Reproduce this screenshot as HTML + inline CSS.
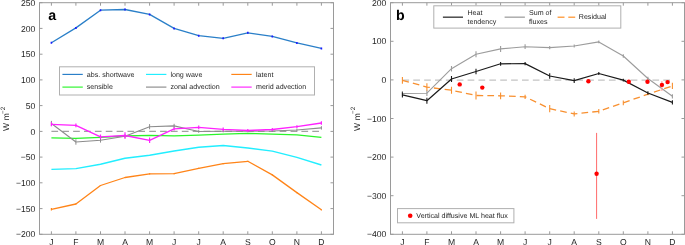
<!DOCTYPE html>
<html><head><meta charset="utf-8"><style>
html,body{margin:0;padding:0;background:#fff;}
body{width:685px;height:245px;overflow:hidden;}
svg{display:block;filter:blur(0.35px);}
text{font-family:"Liberation Sans", sans-serif;fill:#262626;text-rendering:geometricPrecision;}
.tl{font-size:8.6px;}
.lg{font-size:7.1px;}
.pl{font-size:14.2px;font-weight:bold;fill:#000;}
.yl{font-size:8.5px;}
</style></head><body>
<svg width="685" height="245" viewBox="0 0 685 245">
<rect x="39.5" y="2.7" width="294.0" height="231.6" fill="none" stroke="#9a9a9a" stroke-width="1"/><path d="M51.4 234.3V231.3M51.4 2.7V5.7M75.9 234.3V231.3M75.9 2.7V5.7M100.5 234.3V231.3M100.5 2.7V5.7M125.0 234.3V231.3M125.0 2.7V5.7M149.6 234.3V231.3M149.6 2.7V5.7M174.1 234.3V231.3M174.1 2.7V5.7M198.7 234.3V231.3M198.7 2.7V5.7M223.2 234.3V231.3M223.2 2.7V5.7M247.8 234.3V231.3M247.8 2.7V5.7M272.3 234.3V231.3M272.3 2.7V5.7M296.9 234.3V231.3M296.9 2.7V5.7M321.4 234.3V231.3M321.4 2.7V5.7M39.5 2.7H42.5M333.5 2.7H330.5M39.5 28.4H42.5M333.5 28.4H330.5M39.5 54.2H42.5M333.5 54.2H330.5M39.5 79.9H42.5M333.5 79.9H330.5M39.5 105.6H42.5M333.5 105.6H330.5M39.5 131.4H42.5M333.5 131.4H330.5M39.5 157.1H42.5M333.5 157.1H330.5M39.5 182.8H42.5M333.5 182.8H330.5M39.5 208.6H42.5M333.5 208.6H330.5M39.5 234.3H42.5M333.5 234.3H330.5" stroke="#9a9a9a" stroke-width="1" fill="none"/><text x="35.3" y="5.8" text-anchor="end" class="tl">250</text><text x="35.3" y="31.5" text-anchor="end" class="tl">200</text><text x="35.3" y="57.3" text-anchor="end" class="tl">150</text><text x="35.3" y="83.0" text-anchor="end" class="tl">100</text><text x="35.3" y="108.7" text-anchor="end" class="tl">50</text><text x="35.3" y="134.5" text-anchor="end" class="tl">0</text><text x="35.3" y="160.2" text-anchor="end" class="tl">−50</text><text x="35.3" y="185.9" text-anchor="end" class="tl">−100</text><text x="35.3" y="211.7" text-anchor="end" class="tl">−150</text><text x="35.3" y="237.4" text-anchor="end" class="tl">−200</text><text x="51.4" y="244.8" text-anchor="middle" class="tl">J</text><text x="75.9" y="244.8" text-anchor="middle" class="tl">F</text><text x="100.5" y="244.8" text-anchor="middle" class="tl">M</text><text x="125.0" y="244.8" text-anchor="middle" class="tl">A</text><text x="149.6" y="244.8" text-anchor="middle" class="tl">M</text><text x="174.1" y="244.8" text-anchor="middle" class="tl">J</text><text x="198.7" y="244.8" text-anchor="middle" class="tl">J</text><text x="223.2" y="244.8" text-anchor="middle" class="tl">A</text><text x="247.8" y="244.8" text-anchor="middle" class="tl">S</text><text x="272.3" y="244.8" text-anchor="middle" class="tl">O</text><text x="296.9" y="244.8" text-anchor="middle" class="tl">N</text><text x="321.4" y="244.8" text-anchor="middle" class="tl">D</text>
<text x="48.3" y="20" class="pl">a</text>
<text transform="translate(9,131) rotate(-90)" class="yl">W<tspan x="10.7">m</tspan><tspan x="17.1" dy="-4.2" font-size="6.3">−2</tspan></text>
<line x1="51.4" y1="131.3" x2="321.4" y2="131.3" stroke="#7e7e7e" stroke-width="0.9" stroke-dasharray="6.7 4.17"/>
<polyline points="51.4,137.9 75.9,138.3 100.5,137.4 125.0,136.0 149.6,135.3 174.1,135.9 198.7,135.2 223.2,134.1 247.8,133.3 272.3,134.1 296.9,134.9 321.4,137.4" fill="none" stroke="#2af52a" stroke-width="1.35" stroke-linejoin="round" />
<polyline points="51.4,123.5 75.9,142.0 100.5,140.3 125.0,136.3 149.6,126.7 174.1,125.9 198.7,131.5 223.2,131.3 247.8,131.2 272.3,131.0 296.9,130.0 321.4,127.9" fill="none" stroke="#8c8c8c" stroke-width="1.1" stroke-linejoin="round" />
<path d="M51.4 120.90V126.10M75.9 139.30V144.70M100.5 138.00V142.60M125.0 134.30V138.30M149.6 124.10V129.30M174.1 123.80V128.00M198.7 130.20V132.80M223.2 130.30V132.30M247.8 130.20V132.20M272.3 130.00V132.00M296.9 128.50V131.50M321.4 126.20V129.60" stroke="#8c8c8c" stroke-width="1.0" fill="none"/>
<polyline points="51.4,124.3 75.9,125.4 100.5,136.8 125.0,135.5 149.6,140.3 174.1,128.9 198.7,127.4 223.2,129.4 247.8,130.5 272.3,129.5 296.9,126.6 321.4,123.0" fill="none" stroke="#ff22ff" stroke-width="1.3" stroke-linejoin="round" />
<path d="M51.4 122.30V126.30M75.9 123.50V127.30M100.5 134.50V139.10M125.0 132.20V138.80M149.6 137.60V143.00M174.1 127.30V130.50M198.7 125.60V129.20M223.2 127.60V131.20M247.8 129.10V131.90M272.3 128.10V130.90M296.9 125.20V128.00M321.4 121.20V124.80" stroke="#ff22ff" stroke-width="1.2" fill="none"/>
<polyline points="51.4,169.4 75.9,168.6 100.5,164.3 125.0,158.2 149.6,155.2 174.1,151.0 198.7,147.2 223.2,145.5 247.8,148.0 272.3,151.1 296.9,157.4 321.4,165.0" fill="none" stroke="#22eeff" stroke-width="1.4" stroke-linejoin="round" />
<polyline points="51.4,209.3 75.9,204.0 100.5,185.5 125.0,177.5 149.6,173.9 174.1,173.7 198.7,168.3 223.2,163.6 247.8,161.3 272.3,174.9 296.9,192.6 321.4,209.8" fill="none" stroke="#ff8418" stroke-width="1.3" stroke-linejoin="round" />
<path d="M51.4 208.00V210.60M75.9 203.40V204.60M100.5 184.90V186.10M125.0 176.90V178.10M149.6 173.30V174.50M174.1 173.10V174.30M198.7 167.70V168.90M223.2 163.00V164.20M247.8 160.70V161.90M272.3 174.30V175.50M296.9 192.00V193.20M321.4 209.20V210.40" stroke="#ff8418" stroke-width="1.2" fill="none"/>
<polyline points="51.4,42.8 75.9,27.9 100.5,10.2 125.0,9.5 149.6,14.4 174.1,28.4 198.7,35.7 223.2,38.3 247.8,32.8 272.3,36.4 296.9,42.9 321.4,48.4" fill="none" stroke="#2a7fc8" stroke-width="1.3" stroke-linejoin="round" />
<path d="M51.4 41.80V43.80M75.9 26.90V28.90M100.5 9.20V11.20M125.0 8.50V10.50M149.6 13.40V15.40M174.1 27.40V29.40M198.7 34.70V36.70M223.2 37.30V39.30M247.8 31.80V33.80M272.3 35.40V37.40M296.9 41.90V43.90M321.4 47.40V49.40" stroke="#1a1aff" stroke-width="1.6" fill="none"/>
<rect x="59.5" y="66.8" width="255" height="28.2" fill="#fff" stroke="#b0b0b0" stroke-width="1"/>
<line x1="62.4" y1="74.4" x2="82.8" y2="74.4" stroke="#2a7fc8" stroke-width="1.15"/>
<text x="86.8" y="76.8" class="lg">abs. shortwave</text>
<line x1="146.0" y1="74.4" x2="166.4" y2="74.4" stroke="#22eeff" stroke-width="1.15"/>
<text x="170.4" y="76.8" class="lg">long wave</text>
<line x1="231.3" y1="74.4" x2="251.7" y2="74.4" stroke="#ff8418" stroke-width="1.15"/>
<text x="256.0" y="76.8" class="lg">latent</text>
<line x1="62.4" y1="87.1" x2="82.8" y2="87.1" stroke="#2af52a" stroke-width="1.15"/>
<text x="86.8" y="89.4" class="lg">sensible</text>
<line x1="146.0" y1="87.1" x2="166.4" y2="87.1" stroke="#8c8c8c" stroke-width="1.15"/>
<text x="170.4" y="89.4" class="lg">zonal advection</text>
<line x1="231.3" y1="87.1" x2="251.7" y2="87.1" stroke="#ff22ff" stroke-width="1.15"/>
<text x="256.0" y="89.4" class="lg">merid advection</text>
<rect x="390.5" y="2.7" width="294.0" height="231.6" fill="none" stroke="#9a9a9a" stroke-width="1"/><path d="M402.4 234.3V231.3M402.4 2.7V5.7M426.9 234.3V231.3M426.9 2.7V5.7M451.5 234.3V231.3M451.5 2.7V5.7M476.0 234.3V231.3M476.0 2.7V5.7M500.6 234.3V231.3M500.6 2.7V5.7M525.1 234.3V231.3M525.1 2.7V5.7M549.7 234.3V231.3M549.7 2.7V5.7M574.2 234.3V231.3M574.2 2.7V5.7M598.8 234.3V231.3M598.8 2.7V5.7M623.3 234.3V231.3M623.3 2.7V5.7M647.9 234.3V231.3M647.9 2.7V5.7M672.4 234.3V231.3M672.4 2.7V5.7M390.5 2.7H393.5M684.5 2.7H681.5M390.5 41.3H393.5M684.5 41.3H681.5M390.5 79.9H393.5M684.5 79.9H681.5M390.5 118.5H393.5M684.5 118.5H681.5M390.5 157.1H393.5M684.5 157.1H681.5M390.5 195.7H393.5M684.5 195.7H681.5M390.5 234.3H393.5M684.5 234.3H681.5" stroke="#9a9a9a" stroke-width="1" fill="none"/><text x="386.3" y="5.8" text-anchor="end" class="tl">200</text><text x="386.3" y="44.4" text-anchor="end" class="tl">100</text><text x="386.3" y="83.0" text-anchor="end" class="tl">0</text><text x="386.3" y="121.6" text-anchor="end" class="tl">−100</text><text x="386.3" y="160.2" text-anchor="end" class="tl">−200</text><text x="386.3" y="198.8" text-anchor="end" class="tl">−300</text><text x="386.3" y="237.4" text-anchor="end" class="tl">−400</text><text x="402.4" y="244.8" text-anchor="middle" class="tl">J</text><text x="426.9" y="244.8" text-anchor="middle" class="tl">F</text><text x="451.5" y="244.8" text-anchor="middle" class="tl">M</text><text x="476.0" y="244.8" text-anchor="middle" class="tl">A</text><text x="500.6" y="244.8" text-anchor="middle" class="tl">M</text><text x="525.1" y="244.8" text-anchor="middle" class="tl">J</text><text x="549.7" y="244.8" text-anchor="middle" class="tl">J</text><text x="574.2" y="244.8" text-anchor="middle" class="tl">A</text><text x="598.8" y="244.8" text-anchor="middle" class="tl">S</text><text x="623.3" y="244.8" text-anchor="middle" class="tl">O</text><text x="647.9" y="244.8" text-anchor="middle" class="tl">N</text><text x="672.4" y="244.8" text-anchor="middle" class="tl">D</text>
<text x="396" y="19.6" class="pl">b</text>
<text transform="translate(359.5,131) rotate(-90)" class="yl">W<tspan x="10.7">m</tspan><tspan x="17.1" dy="-4.2" font-size="6.3">−2</tspan></text>
<line x1="402.4" y1="80.1" x2="672.4" y2="80.1" stroke="#c4c4c4" stroke-width="1.2" stroke-dasharray="6.7 4.17"/>
<polyline points="402.4,80.3 426.9,87.1 451.5,90.2 476.0,95.5 500.6,95.8 525.1,96.8 549.7,108.7 574.2,113.9 598.8,111.3 623.3,102.8 647.9,94.2 672.4,85.9" fill="none" stroke="#f89030" stroke-width="1.3" stroke-linejoin="round" stroke-dasharray="6.7 4.13"/>
<path d="M402.4 76.90V83.70M426.9 83.30V90.90M451.5 86.70V93.70M476.0 91.50V99.50M500.6 92.40V99.20M525.1 94.70V98.90M549.7 105.10V112.30M574.2 111.40V116.40M598.8 109.10V113.50M623.3 100.40V105.20M647.9 93.20V95.20M672.4 82.80V89.00" stroke="#f89030" stroke-width="1.1" fill="none"/>
<polyline points="402.4,93.5 426.9,93.2 451.5,68.7 476.0,54.2 500.6,48.9 525.1,46.7 549.7,47.6 574.2,46.0 598.8,41.9 623.3,56.0 647.9,78.5 672.4,96.3" fill="none" stroke="#9c9c9c" stroke-width="1.1" stroke-linejoin="round" />
<path d="M402.4 90.90V96.10M426.9 90.40V96.00M451.5 65.90V71.50M476.0 51.20V57.20M500.6 45.90V51.90M525.1 44.30V49.10M549.7 46.00V49.20M574.2 44.50V47.50M598.8 40.50V43.30M623.3 54.20V57.80M647.9 76.70V80.30M672.4 94.20V98.40" stroke="#9c9c9c" stroke-width="1.1" fill="none"/>
<polyline points="402.4,94.8 426.9,100.7 451.5,79.0 476.0,71.5 500.6,63.8 525.1,63.6 549.7,76.0 574.2,80.6 598.8,73.5 623.3,80.1 647.9,93.0 672.4,102.4" fill="none" stroke="#1a1a1a" stroke-width="1.2" stroke-linejoin="round" />
<path d="M402.4 92.20V97.40M426.9 97.70V103.70M451.5 76.00V82.00M476.0 68.70V74.30M500.6 61.90V65.70M525.1 61.90V65.30M549.7 73.20V78.80M574.2 78.20V83.00M598.8 71.90V75.10M623.3 78.70V81.50M647.9 91.20V94.80M672.4 100.30V104.50" stroke="#1a1a1a" stroke-width="1.1" fill="none"/>
<line x1="596.6" y1="132.9" x2="596.6" y2="218.9" stroke="#ff6a6a" stroke-width="1"/>
<line x1="661.9" y1="81.0" x2="661.9" y2="91.0" stroke="#ff9a9a" stroke-width="1"/>
<circle cx="459.7" cy="84.4" r="2.2" fill="#ff0000"/>
<circle cx="482.3" cy="87.6" r="2.2" fill="#ff0000"/>
<circle cx="588.4" cy="81.3" r="2.2" fill="#ff0000"/>
<circle cx="596.6" cy="173.8" r="2.2" fill="#ff0000"/>
<circle cx="628.8" cy="81.7" r="2.2" fill="#ff0000"/>
<circle cx="647.5" cy="81.8" r="2.2" fill="#ff0000"/>
<circle cx="661.9" cy="84.9" r="2.2" fill="#ff0000"/>
<circle cx="667.6" cy="82.1" r="2.2" fill="#ff0000"/>
<rect x="433.8" y="5.8" width="187" height="22.3" fill="#fff" stroke="#b0b0b0" stroke-width="1"/>
<line x1="442.9" y1="17.2" x2="463.0" y2="17.2" stroke="#454545" stroke-width="1.45"/>
<text x="467.5" y="15.0" class="lg">Heat</text><text x="467.5" y="23.9" class="lg">tendency</text>
<line x1="504.6" y1="17.2" x2="524.9" y2="17.2" stroke="#aaaaaa" stroke-width="1.45"/>
<text x="529" y="15.3" class="lg">Sum of</text><text x="529" y="24.1" class="lg">fluxes</text>
<line x1="557.6" y1="17.3" x2="575.2" y2="17.3" stroke="#ffa550" stroke-width="1.45" stroke-dasharray="6.9 3.8"/>
<text x="578.8" y="19.1" class="lg">Residual</text>
<rect x="397.5" y="208.6" width="116.4" height="14.2" fill="#fff" stroke="#b0b0b0" stroke-width="1"/>
<circle cx="410.2" cy="215.7" r="2.3" fill="#ff0000"/>
<text x="416.3" y="218.1" class="lg">Vertical diffusive ML heat flux</text>
</svg>
</body></html>
